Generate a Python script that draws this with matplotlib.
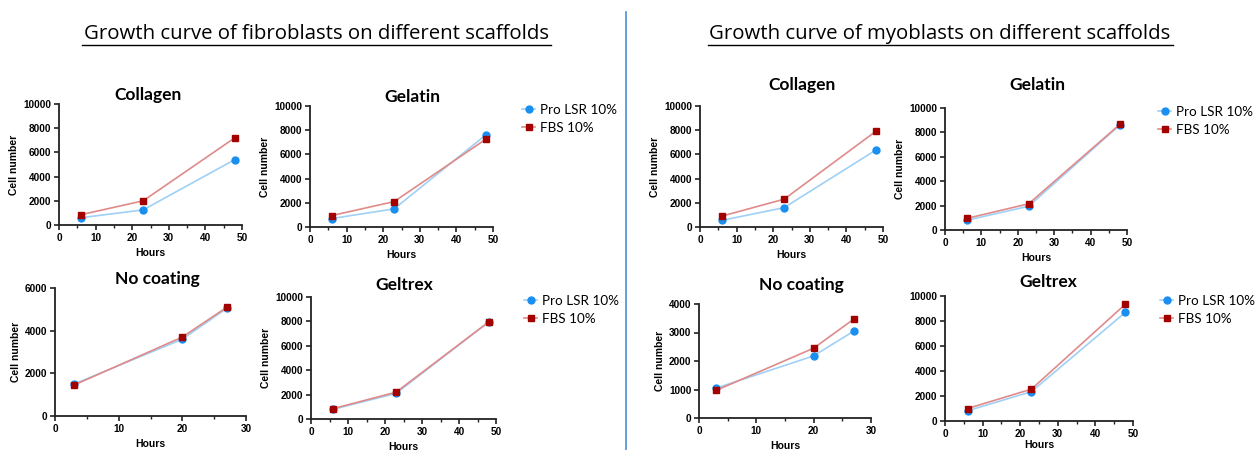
import matplotlib.pyplot as plt
from matplotlib.lines import Line2D
from matplotlib.ticker import MultipleLocator

W, H = 1256, 450

# data
hours_long = [6, 23, 48]
hours_short = [3, 20, 27]
labels = ["Pro LSR 10%", "FBS 10%"]

fib_collagen = ([600, 1250, 5400], [850, 2000, 7200])
fib_gelatin = ([700, 1500, 7600], [950, 2100, 7250])
fib_nocoat = ([1500, 3600, 5050], [1450, 3700, 5100])
fib_geltrex = ([800, 2100, 7950], [850, 2200, 7950])

myo_collagen = ([550, 1600, 6350], [900, 2300, 7900])
myo_gelatin = ([800, 1950, 8600], [950, 2150, 8650])
myo_nocoat = ([1050, 2180, 3050], [970, 2450, 3470])
myo_geltrex = ([820, 2350, 8700], [1000, 2550, 9350])

blue_mk, blue_ln = "#1a8ff0", "#9fd0f5"
red_mk, red_ln = "#a30000", "#e08a8a"

plt.rcParams['font.family'] = ['Liberation Sans', 'DejaVu Sans']

fig = plt.figure(figsize=(W / 100, H / 100), dpi=100)


def px_axes(left, right, top, bottom):
    return fig.add_axes([left / W, 1 - bottom / H, (right - left) / W, (bottom - top) / H])


def panel(rect, title, tpos, x, vals, xmax, ymax, ystep, ylabel=True, xpad=4):
    ax = px_axes(*rect)
    pro, fbs = vals
    ax.plot(x, pro, color=blue_ln, lw=1.2, marker="o", ms=5,
            mfc=blue_mk, mec=blue_mk, label=labels[0])
    ax.plot(x, fbs, color=red_ln, lw=1.2, marker="s", ms=5,
            mfc=red_mk, mec=red_mk, label=labels[1])
    ax.set_xlim(0, xmax)
    ax.set_ylim(0, ymax)
    ax.xaxis.set_major_locator(MultipleLocator(10))
    ax.xaxis.set_minor_locator(MultipleLocator(5))
    ax.yaxis.set_major_locator(MultipleLocator(ystep))
    for s in ["top", "right"]:
        ax.spines[s].set_visible(False)
    for s in ["left", "bottom"]:
        ax.spines[s].set_color("#222222")
        ax.spines[s].set_linewidth(1.3)
    ax.tick_params(which="major", length=3.5, width=1.2, color="#222222", labelsize=7.2, pad=2)
    ax.tick_params(which="minor", length=2.5, width=1.0, color="#222222")
    for t in ax.get_xticklabels() + ax.get_yticklabels():
        t.set_fontweight("bold")
    for ln in ax.get_lines():
        ln.set_clip_on(False)
    fig.text(tpos[0] / W, 1 - tpos[1] / H, title, ha="center", va="center",
             fontsize=12.5, fontweight="bold", family=['Lato', 'DejaVu Sans'])
    ax.set_xlabel("Hours", fontsize=7.5, fontweight="bold", labelpad=xpad)
    if ylabel:
        ax.set_ylabel("Cell number", fontsize=7.5, fontweight="bold", labelpad=3)
    return ax


def legend(ax, xpx, ypx):
    ax.legend(loc="upper left", bbox_to_anchor=(xpx / W, 1 - ypx / H),
              bbox_transform=fig.transFigure, frameon=False,
              prop={"family": ['Lato', 'DejaVu Sans'], "size": 9.7},
              handlelength=1.0, handletextpad=0.35, labelspacing=0.45,
              borderaxespad=0, borderpad=0)


panel((59, 242, 104, 225), "Collagen", (148, 95), hours_long, fib_collagen, 50, 10000, 2000)
a = panel((310, 493, 106, 227), "Gelatin", (412, 97), hours_long, fib_gelatin, 50, 10000, 2000)
legend(a, 522, 104)
panel((55, 246, 288, 416), "No coating", (157, 279), hours_short, fib_nocoat, 30, 6000, 2000)
a = panel((311, 496, 297, 419), "Geltrex", (404, 285), hours_long, fib_geltrex, 50, 10000, 2000)
legend(a, 524, 295)

panel((700, 883, 106, 227), "Collagen", (802, 85), hours_long, myo_collagen, 50, 10000, 2000)
a = panel((945, 1127, 108, 230), "Gelatin", (1037, 85), hours_long, myo_gelatin, 50, 10000, 2000)
legend(a, 1158, 106)
panel((699, 871, 304, 418), "No coating", (801, 285), hours_short, myo_nocoat, 30, 4000, 1000)
a = panel((945, 1133, 296, 421), "Geltrex", (1048, 282), hours_long, myo_geltrex, 50, 10000, 2000,
          ylabel=False, xpad=1)
legend(a, 1160, 295)

# headings with underline
for xc, txt, x0, x1 in [(316, "Growth curve of fibroblasts on different scaffolds", 82, 551),
                        (940, "Growth curve of myoblasts on different scaffolds", 708, 1173)]:
    fig.text(xc / W, 1 - 34 / H, txt, ha="center", va="center", fontsize=14.7,
             family=['Open Sans', 'DejaVu Sans'])
    fig.add_artist(Line2D([x0 / W, x1 / W], [1 - 45 / H, 1 - 45 / H], color="black", lw=1))

fig.add_artist(Line2D([626 / W, 626 / W], [1 - 12 / H, 0], color="#4a8fd8", lw=1.2))

fig.savefig("out.png", dpi=100)
